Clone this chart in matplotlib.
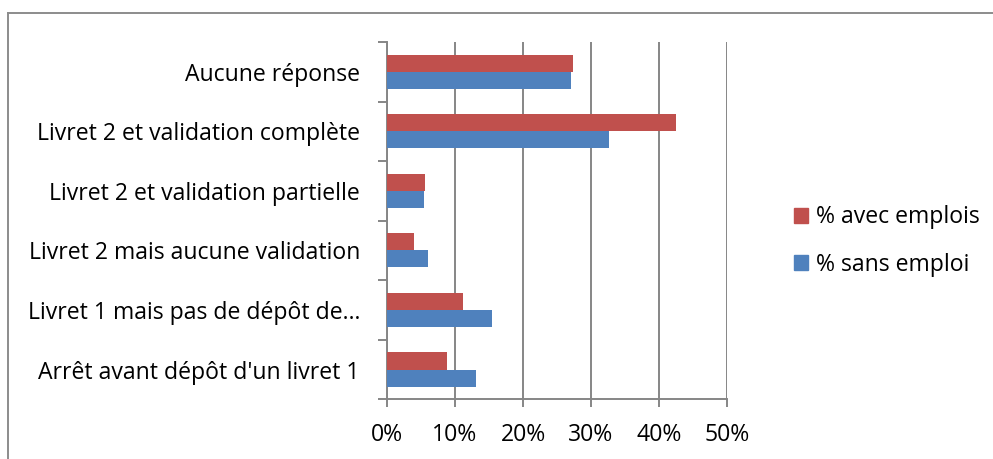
import numpy as np
import matplotlib.pyplot as plt
from matplotlib.patches import Patch
from matplotlib.lines import Line2D
from matplotlib.ticker import FuncFormatter

plt.rcParams["font.family"] = ["Open Sans", "DejaVu Sans"]

categories = ["Arrêt avant dépôt d'un livret 1",
              "Livret 1 mais pas de dépôt de…",
              "Livret 2 mais aucune validation",
              "Livret 2 et validation partielle",
              "Livret 2 et validation complète",
              "Aucune réponse"]
avec_emplois = [8.8, 11.2, 4.0, 5.6, 42.5, 27.4]
sans_emploi = [13.1, 15.5, 6.0, 5.4, 32.6, 27.0]
xticks = [0, 10, 20, 30, 40, 50]

RED = "#C0504D"
BLUE = "#4F81BD"
GRID = "#868686"
FS = 16.6


def main():
    fig = plt.figure(figsize=(9.93, 4.59), dpi=100)
    ax = fig.add_axes([387 / 993, 1 - 399.3 / 459, 340 / 993, 357.3 / 459])

    y = np.arange(len(categories))
    h = 0.286
    ax.barh(y + h / 2, avec_emplois, height=h, color=RED, zorder=3)
    ax.barh(y - h / 2, sans_emploi, height=h, color=BLUE, zorder=3)

    ax.set_xlim(0, 50)
    ax.set_ylim(-0.5, len(categories) - 0.5)
    ax.set_xticks(xticks)
    ax.xaxis.set_major_formatter(FuncFormatter(lambda v, p: f"{v:.0f}%"))
    ax.grid(axis="x", color=GRID, linewidth=1.4, zorder=0)

    ax.set_yticks(np.arange(-0.5, len(categories), 1.0))
    ax.set_yticklabels([])
    ax.set_yticks(y, minor=True)
    ax.set_yticklabels(categories, minor=True)
    ax.tick_params(axis="y", which="major", length=6.5, color=GRID, width=1.4)
    ax.tick_params(axis="y", which="minor", length=0, pad=19.5, labelsize=FS)
    ax.tick_params(axis="x", length=5.8, color=GRID, width=1.4, labelsize=FS, pad=11.5)

    for s in ["top", "right"]:
        ax.spines[s].set_visible(False)
    for s in ["left", "bottom"]:
        ax.spines[s].set_color(GRID)
        ax.spines[s].set_linewidth(1.4)

    handles = [Patch(color=RED, label="% avec emplois"),
               Patch(color=BLUE, label="% sans emploi")]
    fig.legend(handles=handles, loc="center left",
               bbox_to_anchor=(773 / 993, 1 - 241 / 459), frameon=False,
               fontsize=FS, handlelength=0.62, handleheight=0.62,
               handletextpad=0.35, labelspacing=1.0)

    # chart area border (partly outside the picture)
    fig.add_artist(Line2D([8 / 993, 8 / 993], [0, 1 - 13 / 459],
                          transform=fig.transFigure, color="#8c8c8c", lw=1.4))
    fig.add_artist(Line2D([8 / 993, 1], [1 - 13 / 459, 1 - 13 / 459],
                          transform=fig.transFigure, color="#8c8c8c", lw=1.4))

    fig.savefig("out.png", dpi=100)


if __name__ == "__main__":
    main()
